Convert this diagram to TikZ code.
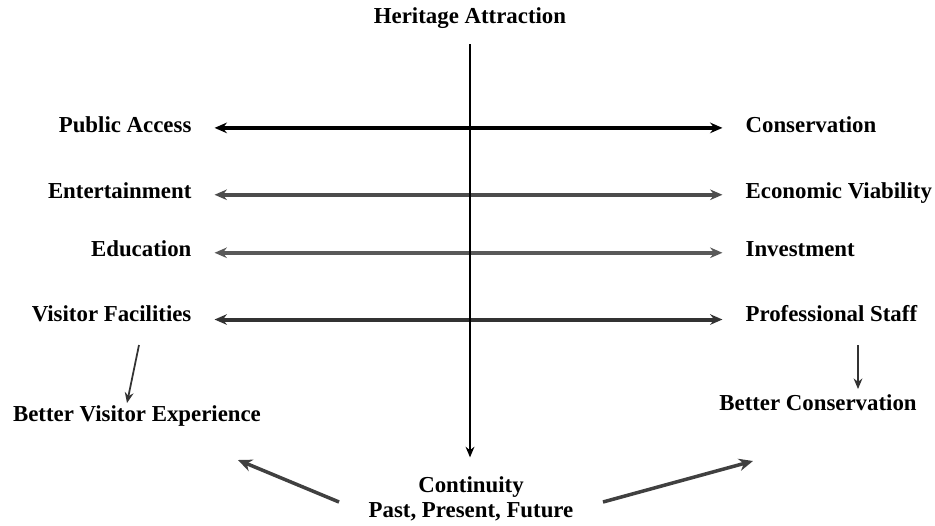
\documentclass[tikz,border=0pt]{standalone}
\usepackage{fontspec}
\setmainfont{Liberation Serif}
\usetikzlibrary{calc,positioning,arrows.meta}

\begin{document}
\begin{tikzpicture}[
    x=0.02cm, y=-0.02cm,
    lbl/.style={font=\fontsize{13}{14}\selectfont\bfseries, inner sep=3pt,
      text height=9pt, text depth=2.5pt},
    leftlbl/.style={lbl, anchor=east},
    rightlbl/.style={lbl, anchor=west},
    biarrow/.style={line width=2.3pt, {Stealth[length=7pt,width=6pt]}-{Stealth[length=7pt,width=6pt]},
      shorten <=10pt, shorten >=10pt},
    downarrow/.style={line width=1pt, -{Stealth[length=6pt,width=5pt]}},
    fatarrow/.style={line width=2pt, black!75, -{Stealth[length=8pt,width=7pt]}}
  ]
  \useasboundingbox (0,0) rectangle (935,525);

  % centre axis
  \node[lbl] (heritage) at (470,18) {Heritage Attraction};
  \node[lbl, align=center, text height=, text depth=] (cont) at (471,499)
    {Continuity\\Past, Present, Future};

  % left side
  \node[leftlbl] (access) at (197,127) {Public Access};
  \node[leftlbl] (enter) at (197,193) {Entertainment};
  \node[leftlbl] (edu) at (197,251) {Education};
  \node[leftlbl] (facil) at (197,316) {Visitor Facilities};
  \node[lbl] (bve) at (137,416) {Better Visitor Experience};

  % right side
  \node[rightlbl] (cons) at (740,127) {Conservation};
  \node[rightlbl] (econ) at (740,193) {Economic Viability};
  \node[rightlbl] (invest) at (740,251) {Investment};
  \node[rightlbl] (staff) at (740,316) {Professional Staff};
  \node[lbl] (bcons) at (818,405) {Better Conservation};

  % tensions
  \draw[biarrow, black] ([yshift=-0.5pt]access.east) -- ([yshift=-0.5pt]cons.west);
  \draw[biarrow, black!70] ([yshift=-1pt]enter.east) -- ([yshift=-1pt]econ.west);
  \draw[biarrow, black!65] ([yshift=-1pt]edu.east) -- ([yshift=-1pt]invest.west);
  \draw[biarrow, black!80] ([yshift=-2pt]facil.east) -- ([yshift=-2pt]staff.west);

  \draw[downarrow, shorten <=6pt, shorten >=8pt] (heritage.south) -- (heritage.south |- cont.north);

  % outcomes
  \coordinate (bvetip) at (127,403);
  \coordinate (bcontip) at (858,389);
  \draw[downarrow, black!80] (139,345) -- (bvetip);
  \draw[downarrow, black!80] (858,345) -- (bcontip);

  \coordinate (lefttip) at (238,460);
  \coordinate (righttip) at (753,461);
  \draw[fatarrow] ($(cont.west)+(-24,3)$) -- (lefttip);
  \draw[fatarrow] ($(cont.east)+(24,3)$) -- (righttip);
\end{tikzpicture}
\end{document}
